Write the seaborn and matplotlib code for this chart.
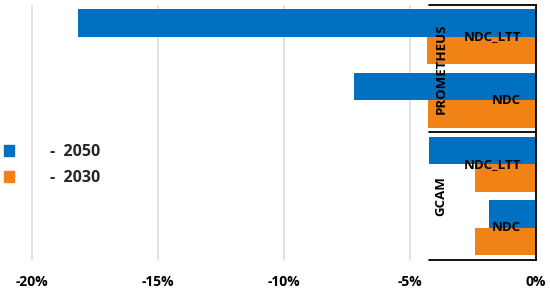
import pandas as pd
import matplotlib
matplotlib.use('Agg')
import matplotlib.pyplot as plt
import seaborn as sns
from matplotlib.ticker import FuncFormatter
from matplotlib.patches import Patch

# Values (fraction of baseline)
models = ['PROMETHEUS', 'PROMETHEUS', 'GCAM', 'GCAM']
scenarios = ['NDC_LTT', 'NDC', 'NDC_LTT', 'NDC']
val_2050 = [-0.1816, -0.0721, -0.0425, -0.0185]
val_2030 = [-0.0433, -0.0428, -0.0242, -0.0241]
years = ['2050', '2030']
x_ticks = [-0.20, -0.15, -0.10, -0.05, 0.0]

blue = '#0070C0'
orange = '#F08216'

# Long table for seaborn
rows = []
for i in range(len(models)):
    case = models[i] + ' ' + scenarios[i]
    rows.append({'case': case, 'year': '2050', 'value': val_2050[i]})
    rows.append({'case': case, 'year': '2030', 'value': val_2030[i]})
df = pd.DataFrame(rows)
cases = [m + ' ' + s for m, s in zip(models, scenarios)]

sns.set_style('white')
plt.rcParams['font.family'] = ['Open Sans', 'DejaVu Sans']

fig = plt.figure(figsize=(5.5, 2.91), dpi=100)
ax = fig.add_axes([0, 0.1082, 0.9745, 0.8746])

sns.barplot(data=df, y='case', x='value', hue='year', order=cases,
            hue_order=years, palette=[blue, orange], orient='h',
            width=0.865, saturation=1, linewidth=0, legend=False, ax=ax)

ax.set_xlim(-0.2127, 0)
ax.set_ylim(len(cases) - 0.5, -0.5)
ax.set_xticks(x_ticks)
ax.xaxis.set_major_formatter(FuncFormatter(lambda v, p: f'{round(v * 100):d}%'))
ax.tick_params(axis='x', length=0, pad=11, labelsize=10, colors='black')
for lbl in ax.get_xticklabels():
    lbl.set_fontweight('bold')
ax.set_yticks([])
ax.set_xlabel('')
ax.set_ylabel('')

# light vertical gridlines
ax.set_axisbelow(True)
ax.xaxis.grid(True, color='#d9d9d9', lw=1.1)

for s in ['top', 'left', 'bottom']:
    ax.spines[s].set_visible(False)
ax.spines['right'].set_color('black')
ax.spines['right'].set_linewidth(1.3)

# multi-level category axis: group separators and labels
for y in [-0.5, 1.5, 3.5]:
    ax.plot([-0.0425, 0], [y, y], color='black', lw=1.3, clip_on=False)

for i, s in enumerate(scenarios):
    ax.text(-0.006, i, s, ha='right', va='center', fontsize=9.5,
            fontweight='bold', color='black')
ax.text(-0.0377, 0.5, 'PROMETHEUS', rotation=90, ha='center', va='center',
        fontsize=9.5, fontweight='bold', color='black')
ax.text(-0.0377, 2.5, 'GCAM', rotation=90, ha='center', va='center',
        fontsize=9.5, fontweight='bold', color='black')

# legend on the left
handles = [Patch(color=blue), Patch(color=orange)]
fig.legend(handles, ['-  ' + y for y in years], loc='center left',
           bbox_to_anchor=(4 / 550, 0.433), bbox_transform=fig.transFigure,
           frameon=False, prop={'size': 11.5, 'weight': 'bold'},
           handlelength=0.65, handleheight=0.65, handletextpad=2.2,
           labelspacing=0.65, borderpad=0, borderaxespad=0)

fig.savefig('out.png', dpi=100)
